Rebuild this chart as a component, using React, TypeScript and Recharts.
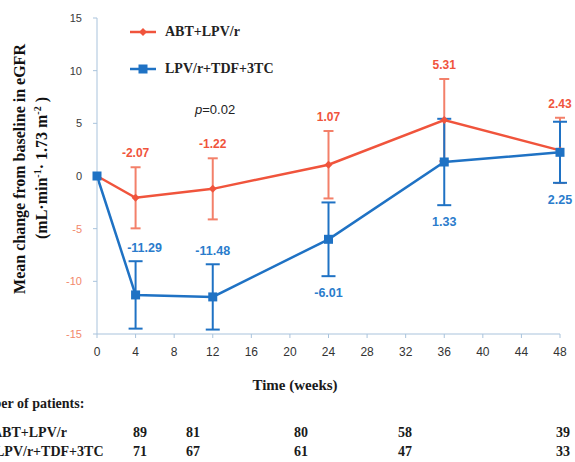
import React from 'react';
import { LineChart, Line, XAxis, YAxis, ErrorBar, LabelList, Legend } from 'recharts';

const weeks = [0, 4, 12, 24, 36, 48];
const abtMean = [0, -2.07, -1.22, 1.07, 5.31, 2.43];
const abtSd = [0, 2.9, 2.9, 3.2, 3.9, 3.1];
const tdfMean = [0, -11.29, -11.48, -6.01, 1.33, 2.25];
const tdfSd = [0, 3.2, 3.1, 3.5, 4.1, 2.9];
const xTicks = [0, 4, 8, 12, 16, 20, 24, 28, 32, 36, 40, 44, 48];
const yTicks = [-15, -10, -5, 0, 5, 10, 15];
const seriesNames = ['ABT+LPV/r', 'LPV/r+TDF+3TC'];
const abtPatients = [89, 81, 80, 58, 39];
const tdfPatients = [71, 67, 61, 47, 33];
const pValueText = '=0.02';

const RED = '#f0543c';
const RED_ERR = '#f3806a';
const BLUE = '#1f72c4';
const AXIS = '#a9c3dc';

const data = weeks.map((w, i) => ({
  week: w,
  abt: abtMean[i],
  abtErr: abtSd[i],
  abtTop: abtMean[i] + abtSd[i],
  tdf: tdfMean[i],
  tdfErr: tdfSd[i],
  tdfAnchor: w < 24 ? tdfMean[i] + tdfSd[i] : tdfMean[i] - tdfSd[i],
}));

const Diamond = (props: any) => {
  const { cx, cy } = props;
  if (cx == null || cy == null) return null;
  const r = 4;
  return <polygon points={`${cx},${cy - r} ${cx + r},${cy} ${cx},${cy + r} ${cx - r},${cy}`} fill={RED} />;
};

const Square = (props: any) => {
  const { cx, cy } = props;
  if (cx == null || cy == null) return null;
  return <rect x={cx - 4.5} y={cy - 4.5} width={9} height={9} fill={BLUE} />;
};

const YTick = (props: any) => {
  const { x, y, payload } = props;
  return (
    <text x={x} y={y} dy={4} textAnchor="end" fontSize={11} fontFamily="'Liberation Sans', Arial, sans-serif"
      fill={payload.value < 0 ? '#f2876b' : '#3a3a3a'}>{payload.value}</text>
  );
};

const XTick = (props: any) => {
  const { x, y, payload } = props;
  return (
    <text x={x} y={y} dy={10} textAnchor="middle" fontSize={12} fontFamily="'Liberation Sans', Arial, sans-serif" fill="#333">
      {payload.value}
    </text>
  );
};

const RedLabel = (props: any) => {
  const { x, y, value, index } = props;
  if (index === 0) return null;
  return (
    <text x={x} y={y - 10} textAnchor="middle" fontSize={12} fontWeight="bold" fill={RED}
      fontFamily="'Liberation Sans', Arial, sans-serif">{Number(value).toFixed(2)}</text>
  );
};

const BlueLabel = (props: any) => {
  const { x, y, value, index } = props;
  if (index === 0) return null;
  const below = weeks[index] >= 24;
  const dx = index === 1 ? 9 : 0;
  return (
    <text x={x + dx} y={below ? y + 21 : y - 9} textAnchor="middle" fontSize={12.5} fontWeight="bold" fill="#2a7ccc"
      fontFamily="'Liberation Sans', Arial, sans-serif">{Number(value).toFixed(2)}</text>
  );
};

const LegendContent = () => (
  <div>
    {seriesNames.map((n, i) => (
      <div key={n} style={{ display: 'flex', alignItems: 'center', height: 37 }}>
        <svg width={26} height={12}>
          <line x1={0} y1={6} x2={26} y2={6} stroke={i === 0 ? RED : BLUE} strokeWidth={2.5} />
          {i === 0 ? (
            <polygon points="13,2 17,6 13,10 9,6" fill={RED} />
          ) : (
            <rect x={8.5} y={1.5} width={9} height={9} fill={BLUE} />
          )}
        </svg>
        <span style={{ marginLeft: 9, fontFamily: "'Liberation Serif', 'Times New Roman', serif", fontWeight: 'bold', fontSize: 14, color: '#222', whiteSpace: 'nowrap' }}>{n}</span>
      </div>
    ))}
  </div>
);

const serif = "'Liberation Serif', 'Times New Roman', serif";
const tableX = [140, 193, 301, 405, 563];

export default function App() {
  return (
    <div style={{ position: 'absolute', left: 0, top: 0, width: 575, height: 462, overflow: 'hidden', background: '#fff' }}>
      <LineChart width={575} height={370} data={data} margin={{ top: 18, right: 15, bottom: 6, left: 67 }}>
        <XAxis dataKey="week" type="number" domain={[0, 48]} ticks={xTicks} interval={0}
          stroke={AXIS} tickSize={4} tickMargin={8} height={30} tick={<XTick />} tickLine={{ stroke: AXIS }} />
        <YAxis type="number" domain={[-15, 15]} ticks={yTicks} interval={0} width={30}
          stroke={AXIS} tickSize={4} tickMargin={11} tick={<YTick />} tickLine={{ stroke: AXIS }} />
        <Legend layout="vertical" align="center" verticalAlign="middle" content={<LegendContent />}
          wrapperStyle={{ position: 'absolute', left: 130, top: 13, width: 'auto', height: 'auto' }} />
        <Line dataKey="abt" name={seriesNames[0]} stroke={RED} strokeWidth={2.5} dot={<Diamond />} activeDot={false}
          isAnimationActive={false}>
          <ErrorBar dataKey="abtErr" width={5} stroke={RED_ERR} strokeWidth={2} direction="y" />
        </Line>
        <Line dataKey="tdf" name={seriesNames[1]} stroke={BLUE} strokeWidth={2.5} dot={<Square />} activeDot={false}
          isAnimationActive={false}>
          <ErrorBar dataKey="tdfErr" width={7} stroke={BLUE} strokeWidth={2} direction="y" />
        </Line>
        <Line dataKey="abtTop" stroke="none" dot={false} activeDot={false} legendType="none" isAnimationActive={false}>
          <LabelList dataKey="abt" content={<RedLabel />} />
        </Line>
        <Line dataKey="tdfAnchor" stroke="none" dot={false} activeDot={false} legendType="none" isAnimationActive={false}>
          <LabelList dataKey="tdf" content={<BlueLabel />} />
        </Line>
      </LineChart>
      <svg width={575} height={462} style={{ position: 'absolute', left: 0, top: 0, pointerEvents: 'none' }}>
        <text x={195} y={114} fontSize={13} fontFamily="'Liberation Sans', Arial, sans-serif" fill="#222">
          <tspan fontStyle="italic">p</tspan>{pValueText}
        </text>
        <g fontFamily={serif} fontWeight="bold" fontSize={16} fill="#111">
          <text x={0} y={0} textAnchor="middle" transform="translate(25,169) rotate(-90)">Mean change from baseline in eGFR</text>
          <text x={0} y={0} textAnchor="middle" transform="translate(47,168) rotate(-90)">
            (mL·min<tspan dy={-6} fontSize={10}>-1</tspan><tspan dy={6}>· 1.73 m</tspan><tspan dy={-6} fontSize={10}>-2</tspan><tspan dy={6}> )</tspan>
          </text>
        </g>
        <g fontFamily={serif} fontWeight="bold" fill="#1a1a1a">
          <text x={295} y={390} textAnchor="middle" fontSize={15}>Time (weeks)</text>
          <text x={-36} y={408} fontSize={14}>Number of patients:</text>
          <text x={-8} y={437} fontSize={14}>{seriesNames[0]}</text>
          <text x={-5} y={456} fontSize={14}>{seriesNames[1]}</text>
          {abtPatients.map((v, i) => (
            <text key={'a' + i} x={tableX[i]} y={437} fontSize={14} textAnchor="middle">{v}</text>
          ))}
          {tdfPatients.map((v, i) => (
            <text key={'t' + i} x={tableX[i]} y={456} fontSize={14} textAnchor="middle">{v}</text>
          ))}
        </g>
      </svg>
    </div>
  );
}
